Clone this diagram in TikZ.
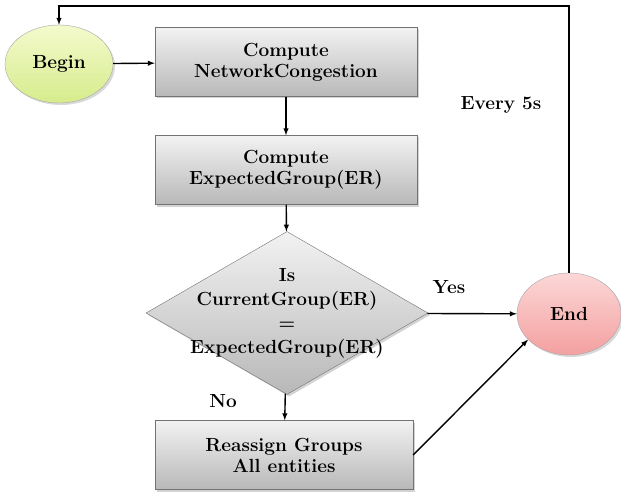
\documentclass[tikz,border=0pt]{standalone}
\usepackage{tikz}
\usetikzlibrary{calc,shapes,shadows}
\definecolor{boxtop}{RGB}{242,242,242}
\definecolor{boxbottom}{RGB}{184,184,184}
\definecolor{begintop}{RGB}{244,250,205}
\definecolor{beginbottom}{RGB}{214,236,140}
\definecolor{endtop}{RGB}{252,215,215}
\definecolor{endbottom}{RGB}{244,160,160}
\newcommand\flowfont{\fontsize{19}{21}\selectfont\bfseries}
\tikzstyle{graybox}=[rectangle,draw=black!55,top color=boxtop,bottom color=boxbottom,
                     minimum width=262pt,minimum height=69pt,align=center,font=\flowfont,
                     drop shadow={opacity=0.35,shadow xshift=2pt,shadow yshift=-2pt}]
\tikzstyle{decision}=[diamond,draw=black!55,top color=boxtop,bottom color=boxbottom,
                      minimum width=282pt,minimum height=163pt,inner sep=0pt,
                      drop shadow={opacity=0.35,shadow xshift=2pt,shadow yshift=-2pt}]
\tikzstyle{terminal}=[ellipse,draw=black!35,minimum width=108pt,minimum height=78pt,
                      font=\flowfont,
                      drop shadow={opacity=0.3,shadow xshift=2pt,shadow yshift=-2pt}]
\tikzstyle{flowarrow}=[-latex,line width=1.4pt]
\tikzstyle{flowlabel}=[font=\flowfont]

\begin{document}
\begin{tikzpicture}[x=1pt,y=-1pt]
    \useasboundingbox (0,0) rectangle (621,492);
    % shapes
    \node [terminal,top color=begintop,bottom color=beginbottom] (begin) at (59,64) {Begin};
    \node [graybox] (netcong) at (286,62) {Compute\\NetworkCongestion};
    \node [graybox] (expgroup) at (286,170) {Compute\\ExpectedGroup(ER)};
    \node [decision,label={[flowlabel,align=center,
            font=\fontsize{19}{24}\selectfont\bfseries]center:Is\\CurrentGroup(ER)\\=\\ExpectedGroup(ER)}]
        (check) at (287,313) {};
    \node [graybox,minimum width=258pt] (reassign) at (284,455) {Reassign Groups\\All entities};
    \node [terminal,top color=endtop,bottom color=endbottom,minimum width=104pt,minimum height=82pt]
        (finish) at (569,314) {End};
    % labels
    \node [flowlabel] (every) at (501,105) {Every 5s};
    \node [flowlabel] (yes) at (449,287) {Yes};
    \node [flowlabel] (no) at (223,401) {No};
    % connectors
    \coordinate (looptop) at (300,6);
    \draw [flowarrow] (begin) -- (netcong);
    \draw [flowarrow] (netcong) -- (expgroup);
    \draw [flowarrow] (expgroup) -- (check);
    \draw [flowarrow] (check) -- (finish);
    \draw [flowarrow] (check) -- (reassign);
    \draw [flowarrow] (reassign.east) -- (finish.212);
    \draw [flowarrow] (finish.north) |- (looptop) -| (begin.north);
\end{tikzpicture}
\end{document}
